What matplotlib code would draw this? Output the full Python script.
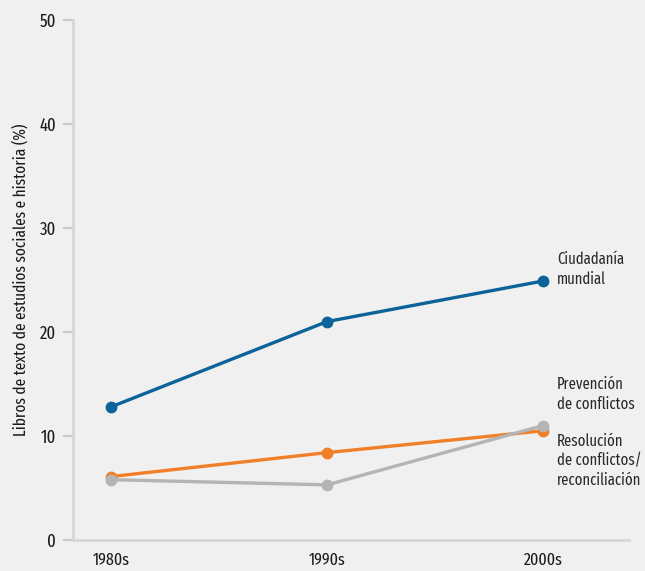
from matplotlib import pyplot as plt

decades = ['1980s', '1990s', '2000s']
ciudadania = [12.8, 21.0, 24.9]
prevencion = [6.1, 8.4, 10.5]
resolucion = [5.8, 5.3, 11.0]

labels = ['Ciudadanía\nmundial', 'Prevención\nde conflictos', 'Resolución\nde conflictos/\nreconciliación']
label_y = [26.0, 14.0, 7.6]
colors = ['#0b6399', '#f07f28', '#b2b4b6']

bg = '#f0f0f0'
plt.rcParams['font.family'] = ['Fira Sans Extra Condensed', 'DejaVu Sans']

fig = plt.figure(figsize=(6.45, 5.71), dpi=100, facecolor=bg)
ax = fig.add_axes([0.1132, 0.0543, 0.8618, 0.9107])
ax.set_facecolor(bg)

x = list(range(len(decades)))
for series, color in zip([ciudadania, prevencion, resolucion], colors):
    ax.plot(x, series, color=color, linewidth=2.4, marker='o', markersize=7.5)

for text, y in zip(labels, label_y):
    ax.text(2.065, y, text, fontsize=11.5, color='#2a2a2a', va='center', ha='left', linespacing=1.3)

ax.set_xlim(-0.176, 2.398)
ax.set_ylim(0, 50)
ax.set_yticks(range(0, 51, 10))
ax.set_xticks(x)
ax.set_xticklabels(decades)
ax.tick_params(axis='y', length=7, width=1.5, color='#c8c8c8', labelsize=13, pad=5, labelcolor='#1a1a1a')
ax.tick_params(axis='x', length=0, labelsize=12.5, pad=9, labelcolor='#1a1a1a')
for side in ['top', 'right']:
    ax.spines[side].set_visible(False)
for side in ['left', 'bottom']:
    ax.spines[side].set_color('#d4d4d4')
    ax.spines[side].set_linewidth(1.8)
ax.set_ylabel('Libros de texto de estudios sociales e historia (%)', fontsize=12, color='#1a1a1a', labelpad=8)

plt.savefig('out.png', dpi=100, facecolor=bg)
